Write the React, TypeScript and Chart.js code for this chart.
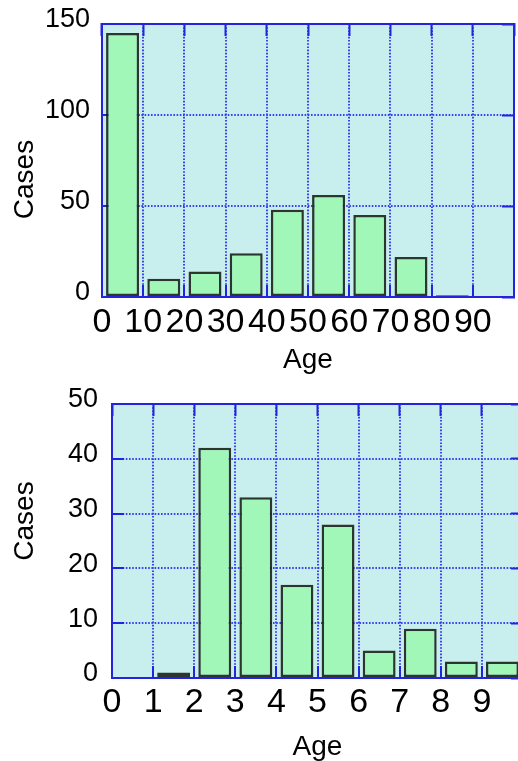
import React, { useEffect, useRef } from 'react';
import { Chart, registerables } from 'chart.js';

Chart.register(...registerables);

// ---- data ----
const topAgeLabels = ['0', '10', '20', '30', '40', '50', '60', '70', '80', '90'];
const topCases = [145, 10, 14, 24, 48, 56, 45, 22, 1, 0];
const topYMax = 150;
const topYStep = 50;

const bottomAgeLabels = ['0', '1', '2', '3', '4', '5', '6', '7', '8', '9'];
const bottomCases = [0, 1, 42, 33, 17, 28, 5, 9, 3, 3];
const bottomYMax = 50;
const bottomYStep = 10;

const xTitle = 'Age';
const yTitle = 'Cases';

// ---- style ----
const FONT = "'Liberation Sans', Arial, Helvetica, sans-serif";
const PLOT_BG = '#c8eeee';
const BAR_FILL = '#a0f7b8';
const BAR_EDGE = 'rgba(20,28,20,0.88)';
const GRID = 'rgba(55,55,240,0.95)';
const AXIS = '#2424e0';

const plotBg = {
  id: 'plotBg',
  beforeDraw(chart: any) {
    const { ctx, chartArea } = chart;
    if (!chartArea) return;
    ctx.save();
    ctx.fillStyle = PLOT_BG;
    ctx.fillRect(chartArea.left, chartArea.top, chartArea.right - chartArea.left, chartArea.bottom - chartArea.top);
    ctx.restore();
  },
};

// vertical axis title, placed beside the y axis with an optional shift along it
const sideTitle = {
  id: 'sideTitle',
  afterDraw(chart: any, _args: any, opts: any) {
    const { ctx, chartArea } = chart;
    if (!chartArea || !opts || !opts.text) return;
    ctx.save();
    ctx.translate(opts.x, (chartArea.top + chartArea.bottom) / 2 + (opts.shift || 0));
    ctx.rotate(-Math.PI / 2);
    ctx.font = `${opts.size}px ${FONT}`;
    ctx.fillStyle = '#000';
    ctx.textAlign = 'center';
    ctx.textBaseline = 'middle';
    ctx.fillText(opts.text, 0, 0);
    ctx.restore();
  },
};

function zeroPad(s: any) {
  s.paddingTop = 0;
  s.paddingBottom = 0;
  s.paddingLeft = 0;
  s.paddingRight = 0;
}

function buildConfig(p: any): any {
  const tickMark = { tickLength: -12, tickColor: AXIS, tickWidth: 2, tickBorderDash: [] };
  const border = { display: true, color: AXIS, width: 2, dash: [1.6, 1.6] };
  return {
    type: 'bar',
    data: {
      labels: p.labels,
      datasets: [
        {
          data: p.values,
          backgroundColor: BAR_FILL,
          borderColor: BAR_EDGE,
          borderWidth: 2.5,
          borderSkipped: false,
          barPercentage: 0.8,
          categoryPercentage: 1,
          xAxisID: 'x',
          yAxisID: 'y',
        },
      ],
    },
    options: {
      responsive: false,
      animation: false,
      devicePixelRatio: 1,
      layout: { padding: p.padding },
      plugins: {
        legend: { display: false },
        tooltip: { enabled: false },
        sideTitle: { text: yTitle, x: 25, shift: p.yTitleShift, size: 28 },
      },
      scales: {
        x: {
          type: 'category',
          position: 'bottom',
          offset: true,
          grid: { offset: true, color: GRID, lineWidth: 2, drawTicks: true, ...tickMark },
          border,
          ticks: {
            color: '#000',
            font: { family: FONT, size: 34 },
            padding: p.xTickPad,
            labelOffset: p.xLabelOffset,
            maxRotation: 0,
            minRotation: 0,
            autoSkip: false,
          },
          title: {
            display: true,
            text: xTitle,
            color: '#000',
            font: { family: FONT, size: 28, lineHeight: 1 },
            padding: { top: 0, bottom: p.xTitlePad },
          },
          afterFit: (s: any) => {
            s.height = p.xAxisHeight;
            zeroPad(s);
          },
        },
        x2: {
          type: 'category',
          position: 'top',
          offset: true,
          grid: { offset: true, drawOnChartArea: false, drawTicks: true, ...tickMark },
          border,
          ticks: { display: false },
          afterFit: (s: any) => {
            s.height = 0;
            zeroPad(s);
          },
        },
        y: {
          type: 'linear',
          position: 'left',
          min: 0,
          max: p.yMax,
          grid: { color: GRID, lineWidth: 2, drawTicks: true, ...tickMark },
          border,
          ticks: {
            stepSize: p.yStep,
            color: '#000',
            font: { family: FONT, size: 27 },
            padding: p.yTickPad,
            labelOffset: -4,
          },
          title: { display: false },
          afterFit: (s: any) => {
            s.width = p.yAxisWidth;
            zeroPad(s);
          },
        },
        y2: {
          type: 'linear',
          position: 'right',
          min: 0,
          max: p.yMax,
          grid: { drawOnChartArea: false, drawTicks: true, ...tickMark },
          border,
          ticks: { display: false, stepSize: p.yStep },
          afterFit: (s: any) => {
            s.width = 0;
            zeroPad(s);
          },
        },
      },
    },
    plugins: [plotBg, sideTitle],
  };
}

function HistChart(props: { params: any; width: number; height: number; top: number }) {
  const ref = useRef<HTMLCanvasElement | null>(null);
  useEffect(() => {
    if (!ref.current) return;
    const chart = new Chart(ref.current, buildConfig(props.params));
    return () => chart.destroy();
  }, []);
  return (
    <canvas
      ref={ref}
      width={props.width}
      height={props.height}
      style={{ position: 'absolute', left: 0, top: props.top, width: props.width, height: props.height }}
    />
  );
}

export default function App() {
  const topParams = {
    labels: topAgeLabels,
    values: topCases,
    yMax: topYMax,
    yStep: topYStep,
    padding: { top: 24, right: 4, left: 0, bottom: 0 },
    yAxisWidth: 102,
    xAxisHeight: 78,
    xLabelOffset: -20.6,
    xTickPad: 17,
    yTickPad: 24,
    xTitlePad: 1,
    yTitleShift: 19,
  };
  const bottomParams = {
    labels: bottomAgeLabels,
    values: bottomCases,
    yMax: bottomYMax,
    yStep: bottomYStep,
    padding: { top: 29, right: 7, left: 0, bottom: 0 },
    yAxisWidth: 112,
    xAxisHeight: 83,
    xLabelOffset: -20.55,
    xTickPad: 16,
    yTickPad: 26,
    xTitlePad: 0,
    yTitleShift: -20,
  };
  return (
    <div
      style={{
        position: 'fixed',
        left: 0,
        top: 0,
        width: 518,
        height: 761,
        overflow: 'hidden',
        background: '#fff',
      }}
    >
      <HistChart params={topParams} width={518} height={375} top={0} />
      <HistChart params={bottomParams} width={530} height={386} top={375} />
    </div>
  );
}
